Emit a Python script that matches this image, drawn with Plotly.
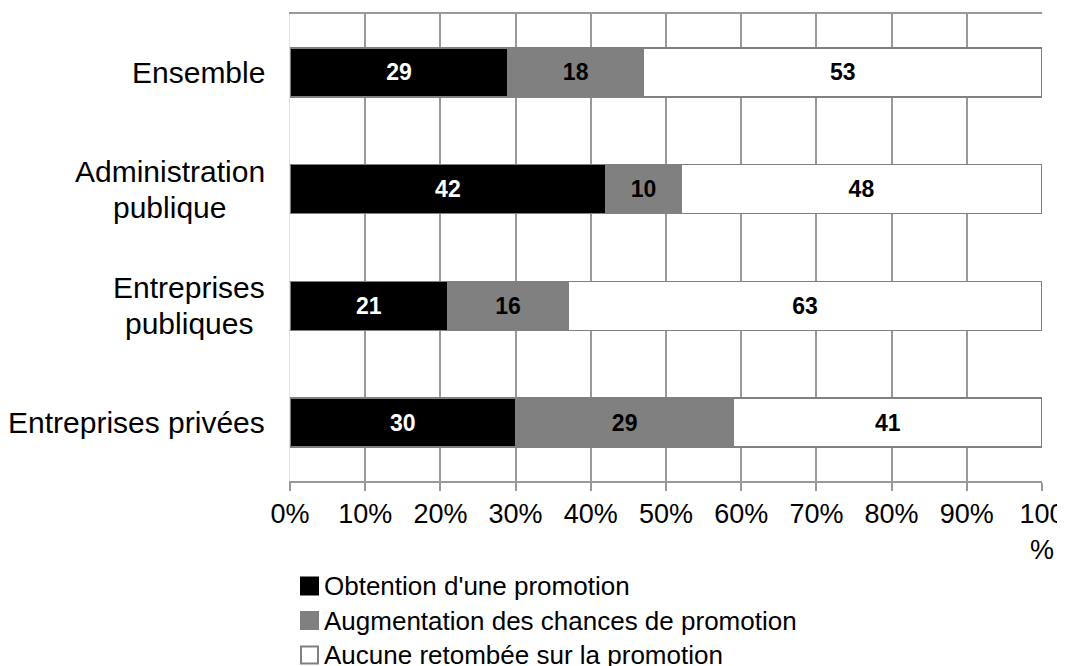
import plotly.graph_objects as go

categories = ["Ensemble", "Administration publique", "Entreprises publiques", "Entreprises privées"]
category_lines = [["Ensemble"], ["Administration", "publique"], ["Entreprises", "publiques"], ["Entreprises privées"]]
obtention = [29, 42, 21, 30]
augmentation = [18, 10, 16, 29]
aucune = [53, 48, 63, 41]
tick_vals = [0, 10, 20, 30, 40, 50, 60, 70, 80, 90, 100]
tick_text = ["0%", "10%", "20%", "30%", "40%", "50%", "60%", "70%", "80%", "90%", "100<br>%"]

series = [
    ("Obtention d'une promotion", obtention, "#000000", "#ffffff"),
    ("Augmentation des chances de promotion", augmentation, "#808080", "#000000"),
    ("Aucune retombée sur la promotion", aucune, "#ffffff", "#000000"),
]

FONT = "Liberation Sans, Arial"
W, H = 1065, 666
ML, MR, MT, MB = 282, 31, 6, 193
PW = W - ML - MR
PH = H - MT - MB

# Arial/Liberation advance widths (em) to centre multi-line labels inside a right-aligned block
CW = {"A": .667, "E": .667, "d": .556, "m": .833, "i": .222, "n": .556, "s": .5, "t": .278,
      "r": .333, "a": .556, "o": .556, "p": .556, "u": .556, "b": .556, "l": .222, "q": .556,
      "e": .556, "é": .556, "v": .5, " ": .278}
LBL_SIZE = 30

def text_w(s):
    return sum(CW.get(c, .556) for c in s) * LBL_SIZE

fig = go.Figure()
for name, vals, color, tcolor in series:
    fig.add_trace(go.Bar(
        y=categories, x=vals, name=name, orientation="h",
        marker=dict(color=color, line=dict(color="#808080", width=1.5)),
        width=0.42,
        text=[str(v) for v in vals], textposition="inside",
        insidetextanchor="middle",
        textfont=dict(family=FONT, size=23, color=tcolor, weight="bold"),
        constraintext="none", showlegend=False,
    ))

annotations = []
shapes = []
RIGHT_GAP = 25
for cat, lines in zip(categories, category_lines):
    n = len(lines)
    block_w = max(text_w(l) for l in lines)
    for i, line in enumerate(lines):
        shift = (-(i - (n - 1) / 2)) * 36
        annotations.append(dict(
            x=0, xref="paper", xanchor="center",
            xshift=-(RIGHT_GAP + block_w / 2),
            y=cat, yref="y", yanchor="middle", yshift=shift,
            text=line, showarrow=False, align="center",
            font=dict(family=FONT, size=LBL_SIZE, color="#000000"),
        ))

# legend drawn by hand so that it can run off the bottom edge as in the original
legend_first = 105  # px below plot bottom, centre of first entry
legend_gap = 34.5
SQ = 17
for k, (name, vals, color, tcolor) in enumerate(series):
    yc = -(legend_first + k * legend_gap) / PH
    half = (SQ / 2) / PH
    x0 = (301 - 290) / PW
    x1 = (301 + SQ - 290) / PW
    shapes.append(dict(
        type="rect", xref="paper", yref="paper",
        x0=x0, x1=x1, y0=yc - half, y1=yc + half,
        fillcolor=color,
        line=dict(color="#808080" if color == "#ffffff" else color, width=2),
    ))
    annotations.append(dict(
        x=(322 - 290) / PW, xref="paper", xanchor="left",
        y=yc, yref="paper", yanchor="middle",
        text=name, showarrow=False,
        font=dict(family=FONT, size=26, color="#000000"),
    ))

fig.update_layout(
    barmode="stack",
    width=W, height=H,
    margin=dict(l=ML, r=MR, t=MT, b=MB, autoexpand=False),
    paper_bgcolor="white", plot_bgcolor="white",
    font=dict(family=FONT, size=27, color="#000000"),
    showlegend=False,
    annotations=annotations,
    shapes=shapes,
    xaxis=dict(
        range=[0, 100], tickvals=tick_vals, ticktext=tick_text,
        showgrid=True, gridcolor="#999999", gridwidth=2,
        showline=True, linecolor="#999999", linewidth=2, mirror=True,
        ticks="outside", ticklen=8, tickcolor="#999999", tickwidth=2,
        zeroline=False, tickfont=dict(size=27), automargin=False,
    ),
    yaxis=dict(
        categoryorder="array", categoryarray=categories, autorange="reversed",
        showgrid=False, showline=True, linecolor="#e0e0e0", linewidth=1,
        ticks="", showticklabels=False, automargin=False,
    ),
)

fig.write_html("out.html")
